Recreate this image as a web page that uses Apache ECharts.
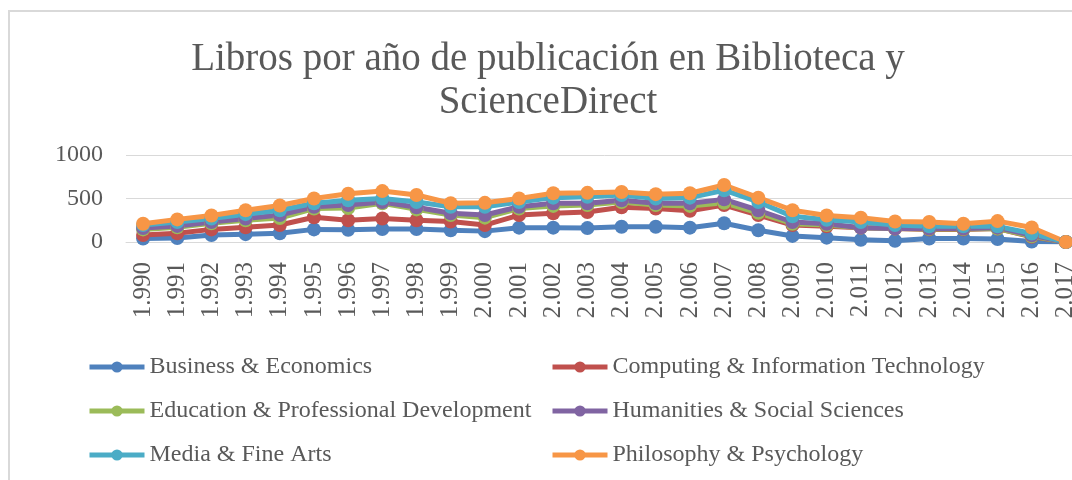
<!DOCTYPE html>
<html>
<head>
    <meta charset="utf-8"/>
    <title>Libros por año de publicación</title>
    <script src="https://cdn.jsdelivr.net/npm/echarts@6/dist/echarts.min.js"></script>
    <style>
        html, body { margin: 0; padding: 0; background: #fff; overflow: hidden; }
    </style>
</head>
<body>
<div id="main" style="width: 1096px;height:480px;"></div>
<script type="text/javascript">
    // categorías (años, con separador de miles como en el original)
    var years = ["1.990", "1.991", "1.992", "1.993", "1.994", "1.995", "1.996", "1.997", "1.998", "1.999",
        "2.000", "2.001", "2.002", "2.003", "2.004", "2.005", "2.006", "2.007", "2.008", "2.009",
        "2.010", "2.011", "2.012", "2.013", "2.014", "2.015", "2.016", "2.017"];

    // valores por serie (gráfico de líneas apiladas)
    var business = [40, 45, 80, 90, 100, 145, 140, 150, 150, 135, 125, 165, 165, 160, 175, 175, 165, 215, 135, 70, 50, 25, 15, 40, 40, 35, 5, 0];
    var computing = [40, 55, 65, 80, 95, 140, 110, 120, 100, 100, 70, 145, 165, 185, 225, 210, 195, 210, 175, 125, 130, 140, 140, 105, 105, 120, 55, 0];
    var education = [65, 70, 70, 80, 80, 100, 140, 175, 125, 75, 85, 75, 85, 80, 60, 40, 55, 25, 25, 15, 15, 0, 0, 5, 5, 0, 5, 0];
    var humanities = [15, 15, 15, 20, 35, 20, 35, 15, 25, 20, 30, 20, 30, 20, 20, 20, 30, 40, 30, 20, 15, 0, 0, 5, 5, 10, 12, 0];
    var media = [35, 45, 40, 50, 55, 40, 55, 40, 60, 75, 95, 55, 65, 75, 60, 55, 65, 105, 95, 65, 45, 65, 40, 25, 25, 15, 20, 0];
    var philosophy = [15, 30, 35, 45, 55, 55, 75, 85, 80, 40, 45, 40, 50, 45, 35, 50, 50, 60, 50, 70, 50, 50, 40, 50, 30, 60, 70, 0];

    var yTicks = [0, 500, 1000];

    var names = ['Business & Economics', 'Computing & Information Technology', 'Education & Professional Development',
        'Humanities & Social Sciences', 'Media & Fine Arts', 'Philosophy & Psychology'];
    var values = [business, computing, education, humanities, media, philosophy];
    var colors = ['#4F81BD', '#C0504D', '#9BBB59', '#8064A2', '#4BACC6', '#F79646'];

    var fontFam = '"Liberation Serif", "DejaVu Serif", serif';
    var textCol = '#595959';

    var series = names.map(function (n, i) {
        return {
            name: n,
            type: 'line',
            stack: 'total',
            data: values[i],
            symbol: 'circle',
            symbolSize: 14,
            color: colors[i],
            lineStyle: {width: 5, color: colors[i]},
            itemStyle: {color: colors[i]},
            emphasis: {disabled: true}
        };
    });

    var legendCommon = {
        orient: 'vertical',
        top: 350,
        itemWidth: 55,
        itemHeight: 14,
        itemGap: 20,
        lineStyle: {width: 5},
        textStyle: {fontFamily: fontFam, fontSize: 24, color: textCol, lineHeight: 24}
    };

    var myChart = echarts.init(document.getElementById('main'));
    myChart.setOption({
        backgroundColor: '#fff',
        animation: false,
        title: {
            text: 'Libros por año de publicación en Biblioteca y\nScienceDirect',
            left: 'center',
            top: 33,
            textStyle: {fontFamily: fontFam, fontSize: 39, fontWeight: 'normal', color: textCol, lineHeight: 43}
        },
        legend: [
            Object.assign({left: 82, data: [names[0], names[2], names[4]]}, legendCommon),
            Object.assign({left: 545, data: [names[1], names[3], names[5]]}, legendCommon)
        ],
        grid: {left: 126, top: 155, width: 957, height: 87},
        xAxis: {
            type: 'category',
            data: years,
            boundaryGap: true,
            axisLine: {lineStyle: {color: '#d9d9d9', width: 1}},
            axisTick: {show: false},
            axisLabel: {rotate: 90, interval: 0, margin: 20, fontFamily: fontFam, fontSize: 25, color: textCol}
        },
        yAxis: {
            type: 'value',
            min: yTicks[0],
            max: yTicks[yTicks.length - 1],
            interval: 500,
            axisLine: {show: false},
            axisTick: {show: false},
            splitLine: {lineStyle: {color: '#d9d9d9', width: 1}},
            axisLabel: {
                margin: 23, fontFamily: fontFam, fontSize: 24, color: textCol,
                formatter: function (v) { return String(v); }
            }
        },
        graphic: [{
            type: 'rect',
            shape: {x: 9, y: 11, width: 1200, height: 600},
            style: {fill: 'none', stroke: '#d9d9d9', lineWidth: 2},
            silent: true
        }],
        series: series
    });
</script>
</body>
</html>
